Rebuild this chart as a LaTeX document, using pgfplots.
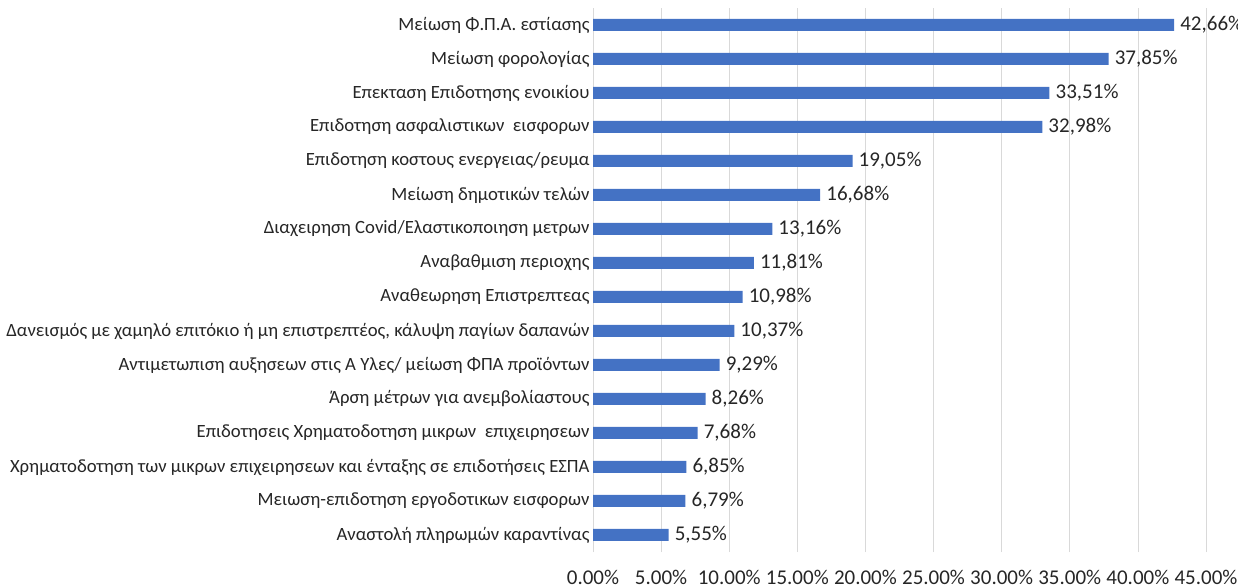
\documentclass[border=0pt]{standalone}
\usepackage{pgfplots}
\pgfplotsset{compat=1.18}
\usepackage{pgfplotstable}
\usepackage{fontspec}
\setmainfont{Carlito}
\definecolor{barblue}{HTML}{4472C4}
\definecolor{txt}{HTML}{262626}
\definecolor{gridc}{HTML}{D9D9D9}
\pgfplotstableread{
idx val
0 5.55
1 6.79
2 6.85
3 7.68
4 8.26
5 9.29
6 10.37
7 10.98
8 11.81
9 13.16
10 16.68
11 19.05
12 32.98
13 33.51
14 37.85
15 42.66
}\datatable
\begin{document}
\begin{tikzpicture}
\begin{axis}[
  at={(593bp,33bp)}, anchor=south west,
  scale only axis, width=613bp, height=544bp,
  xbar, bar width=12bp,
  xmin=0, xmax=45, ymin=-0.5, ymax=15.5,
  xtick={0,5,...,45},
  ytick={0,...,15},
  yticklabels={
    Αναστολή πληρωμών καραντίνας,
    Μειωση-επιδοτηση εργοδοτικων εισφορων~,
    Χρηματοδοτηση των μικρων επιχειρησεων και ένταξης σε επιδοτήσεις ΕΣΠΑ~,
    Επιδοτησεις Χρηματοδοτηση μικρων~ επιχειρησεων~,
    Άρση μέτρων για ανεμβολίαστους,
    Αντιμετωπιση αυξησεων στις Α Υλες/ μείωση ΦΠΑ προϊόντων,
    {Δανεισμός με χαμηλό επιτόκιο ή μη επιστρεπτέος, κάλυψη παγίων δαπανών},
    Αναθεωρηση Επιστρεπτεας,
    Αναβαθμιση περιοχης,
    Διαχειρηση Covid/Ελαστικοποιηση μετρων~,
    Μείωση δημοτικών τελών,
    Επιδοτηση κοστους ενεργειας/ρευμα~,
    Επιδοτηση ασφαλιστικων~ εισφορων~,
    Επεκταση Επιδοτησης ενοικίου,
    Μείωση φορολογίας,
    Μείωση Φ.Π.Α. εστίασης},
  xticklabel={\pgfmathprintnumber[fixed,fixed zerofill,precision=2]{\tick}\%},
  /pgf/number format/assume math mode=true,
  xticklabel style={font=\fontsize{21bp}{25bp}\selectfont, text=txt, yshift=-15bp},
  yticklabel style={font=\fontsize{18.7bp}{22bp}\selectfont, text=txt},
  axis line style={draw=none},
  major tick length=0pt,
  xmajorgrids, grid style={gridc, line width=0.75bp},
  point meta=x,
  nodes near coords={\pgfmathprintnumber[fixed,fixed zerofill,precision=2,use comma]{\pgfplotspointmeta}\%},
  nodes near coords style={font=\fontsize{21bp}{25bp}\selectfont, text=txt, anchor=west, inner sep=3bp, xshift=3bp},
]
\addplot[fill=barblue, draw=none] table[x=val, y=idx] {\datatable};
\end{axis}
\pgfresetboundingbox
\path[use as bounding box] (0,0) rectangle (1238bp,585bp);
\end{tikzpicture}
\end{document}
